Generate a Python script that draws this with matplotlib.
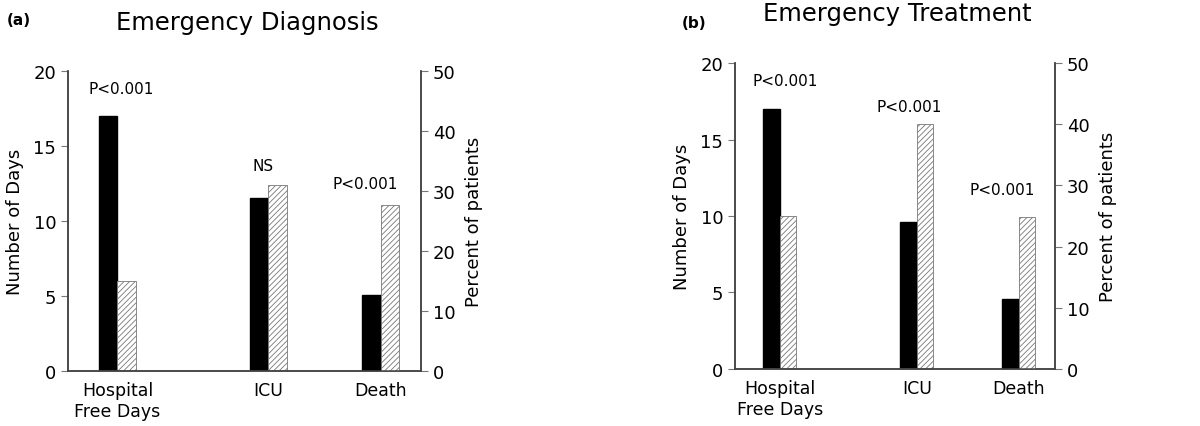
import matplotlib.pyplot as plt

# values (days for hospital / ICU, percent for death)
categories = ['Hospital\nFree Days', 'ICU', 'Death']

diag_days_yes = [17.0, 11.5]
diag_days_no = [6.0, 12.4]
diag_death_yes = 12.7
diag_death_no = 27.7
diag_pvals = ['P<0.001', 'NS', 'P<0.001']

treat_days_yes = [17.0, 9.6]
treat_days_no = [10.0, 16.0]
treat_death_yes = 11.4
treat_death_no = 24.8
treat_pvals = ['P<0.001', 'P<0.001', 'P<0.001']

# layout
positions = [1.4, 5.68, 8.86]
bar_w = 0.52
plt.rcParams['font.family'] = 'DejaVu Sans'
plt.rcParams['hatch.linewidth'] = 0.6


def panel(fig, rect, days_yes, days_no, death_yes, death_no, pvals, ptext_xy):
    ax = fig.add_axes(rect)
    ax2 = ax.twinx()
    ax.set_xlim(0, 10)
    ax.set_ylim(0, 20)
    ax2.set_ylim(0, 50)

    xs = positions[:2]
    ax.bar([x - bar_w / 2 for x in xs], days_yes, bar_w, color='black', edgecolor='black')
    ax.bar([x + bar_w / 2 for x in xs], days_no, bar_w, color='white', edgecolor='#777777',
           hatch='//////', linewidth=0.6)
    ax2.bar(positions[2] - bar_w / 2, death_yes, bar_w, color='black', edgecolor='black')
    ax2.bar(positions[2] + bar_w / 2, death_no, bar_w, color='white', edgecolor='#777777',
            hatch='//////', linewidth=0.6)

    for t, (x, y) in zip(pvals, ptext_xy):
        ax.text(x, y, t, ha='center', va='center', fontsize=11)

    for a in (ax, ax2):
        a.spines['top'].set_visible(False)
        for s in a.spines.values():
            s.set_color('#444444')
            s.set_linewidth(1.1)
        a.tick_params(axis='y', direction='out', length=5, width=0.8, color='#777777', labelsize=13)

    ax.set_yticks([0, 5, 10, 15, 20])
    ax2.set_yticks([0, 10, 20, 30, 40, 50])
    ax.set_xticks(positions)
    ax.set_xticklabels(categories, fontsize=12.5, linespacing=1.2)
    ax.tick_params(axis='x', length=0, pad=7)
    ax.set_ylabel('Number of Days', fontsize=13, labelpad=7)
    ax2.set_ylabel('Percent of patients', fontsize=13, labelpad=7)
    return ax


fig = plt.figure(figsize=(12, 4.27), dpi=100)

panel(fig, [0.0567, 0.1288, 0.294, 0.7026], diag_days_yes, diag_days_no,
      diag_death_yes, diag_death_no, diag_pvals,
      [(1.5, 18.8), (5.52, 13.67), (8.41, 12.5)])
panel(fig, [0.6125, 0.1335, 0.2667, 0.7166], treat_days_yes, treat_days_no,
      treat_death_yes, treat_death_no, treat_pvals,
      [(1.56, 18.84), (5.45, 17.14), (8.35, 11.76)])

fig.text(0.006, 0.953, '(a)', fontsize=11, fontweight='bold', va='center')
fig.text(0.206, 0.946, 'Emergency Diagnosis', fontsize=17.5, ha='center', va='center')
fig.text(0.568, 0.946, '(b)', fontsize=11, fontweight='bold', va='center')
fig.text(0.748, 0.967, 'Emergency Treatment', fontsize=17.5, ha='center', va='center')

fig.savefig('out.png', dpi=100)
